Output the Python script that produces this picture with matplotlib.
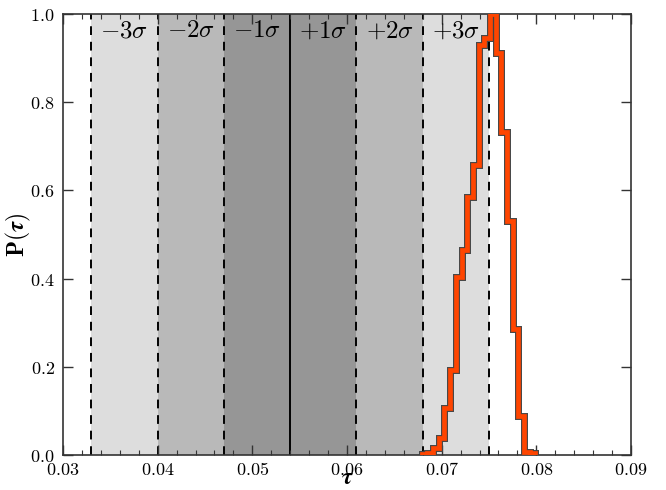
import numpy as np
import matplotlib
matplotlib.use("Agg")
import matplotlib.pyplot as plt
import matplotlib.patheffects as pe
from matplotlib.ticker import MultipleLocator, FuncFormatter

# ---- data ----
tau_center = 0.054
tau_sigma = 0.007
sigma_levels = [-3, -2, -1, 1, 2, 3]
sigma_labels = [r"$-3\sigma$", r"$-2\sigma$", r"$-1\sigma$", r"$+1\sigma$", r"$+2\sigma$", r"$+3\sigma$"]
band_colors = {1: "#969696", 2: "#b9b9b9", 3: "#dddddd"}

bin_edges = [0.0679, 0.0685, 0.0691, 0.0697, 0.0703, 0.0709, 0.0715, 0.0721, 0.0727,
             0.0733, 0.0739, 0.0745, 0.0751, 0.0757, 0.0763, 0.0769, 0.0775, 0.0781,
             0.0787, 0.0793, 0.0799]
prob = [0.003, 0.005, 0.015, 0.039, 0.107, 0.193, 0.404, 0.466, 0.586, 0.658,
        0.930, 0.945, 1.000, 0.912, 0.733, 0.531, 0.286, 0.089, 0.006, 0.004]

plt.rcParams["mathtext.fontset"] = "cm"
plt.rcParams["font.family"] = ["DejaVu Serif"]

fig = plt.figure(figsize=(6.66, 4.90), dpi=100)
ax = fig.add_axes([0.0946, 0.0714, 0.8528, 0.9000])

# sigma bands
for k in (1, 2, 3):
    lo_in = tau_center - (k - 1) * tau_sigma
    lo_out = tau_center - k * tau_sigma
    ax.axvspan(lo_out, lo_in, color=band_colors[k], lw=0, zorder=0)
    hi_in = tau_center + (k - 1) * tau_sigma
    hi_out = tau_center + k * tau_sigma
    ax.axvspan(hi_in, hi_out, color=band_colors[k], lw=0, zorder=0)

for k in sigma_levels:
    ax.axvline(tau_center + k * tau_sigma, color="black", ls=(0, (4.5, 3.5)), lw=1.4, zorder=1)
ax.axvline(tau_center, color="black", ls="-", lw=1.4, zorder=1)

for k, lab in zip(sigma_levels, sigma_labels):
    mid = tau_center + (k - np.sign(k) * 0.5) * tau_sigma
    ax.text(mid, 0.962, lab, ha="center", va="center", fontsize=18, zorder=3)

ax.stairs(prob, bin_edges, baseline=0, color="#ff4500", lw=3.4, zorder=4,
          path_effects=[pe.Stroke(linewidth=5.0, foreground="#444444"), pe.Normal()])

ax.set_xlim(0.03, 0.09)
ax.set_ylim(0.0, 1.0)
ax.xaxis.set_major_locator(MultipleLocator(0.01))
ax.xaxis.set_minor_locator(MultipleLocator(0.002))
ax.yaxis.set_major_locator(MultipleLocator(0.2))
ax.xaxis.set_major_formatter(FuncFormatter(lambda v, p: r"$%.2f$" % v))
ax.yaxis.set_major_formatter(FuncFormatter(lambda v, p: r"$%.1f$" % v))
ax.tick_params(which="both", direction="in", top=True, right=True, labelsize=13, color="#333333")
ax.tick_params(which="major", length=7, width=1.0)
ax.tick_params(axis="x", which="major", pad=4)
ax.tick_params(axis="y", which="major", pad=6)
ax.tick_params(which="minor", length=3.5, width=0.8)
for s in ax.spines.values():
    s.set_color("#333333")
    s.set_linewidth(1.2)

ax.set_xlabel(r"$\boldsymbol{\tau}$", fontsize=17, labelpad=-9)
ax.set_ylabel(r"$\mathbf{P(}\boldsymbol{\tau}\mathbf{)}$", fontsize=17, labelpad=-2)

fig.savefig("out.png", dpi=100)
